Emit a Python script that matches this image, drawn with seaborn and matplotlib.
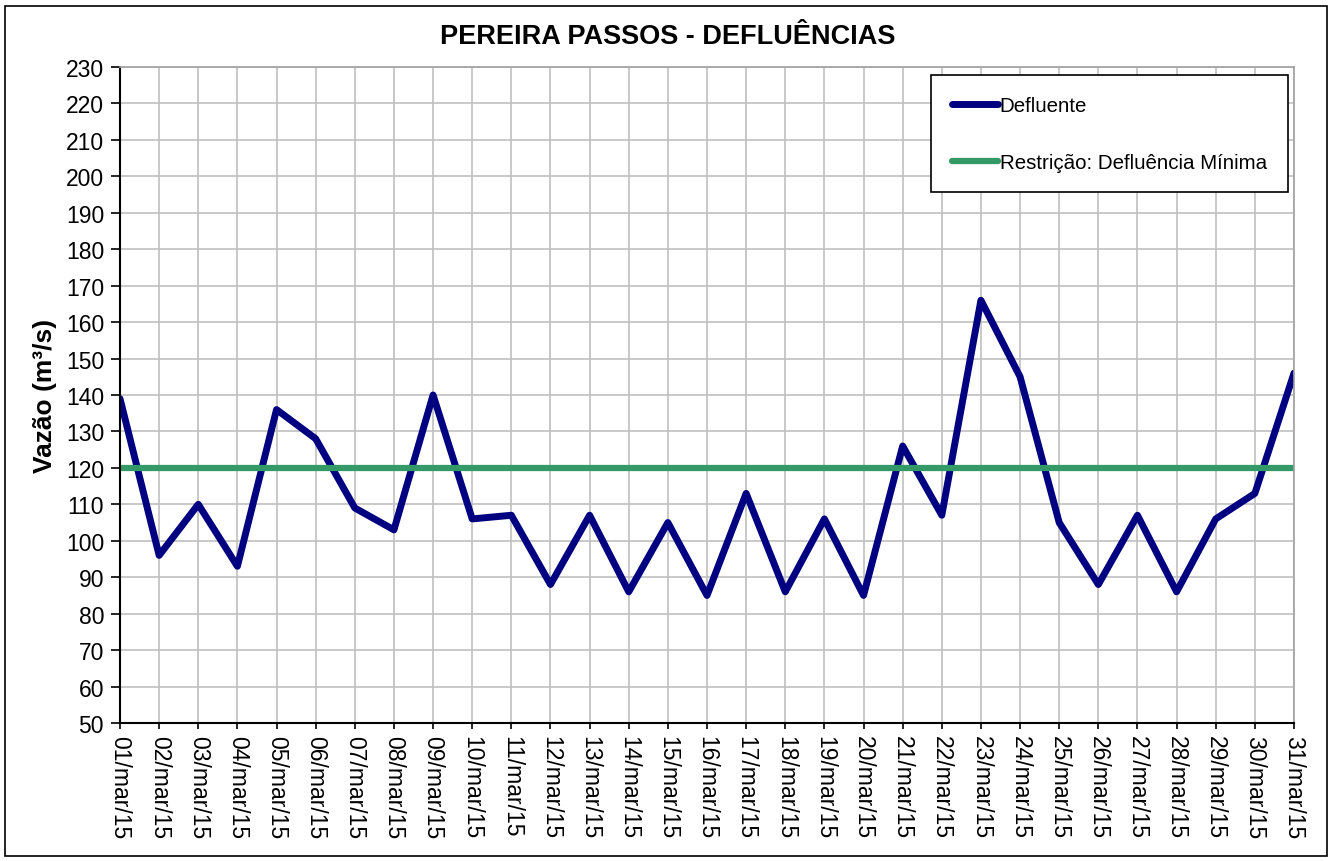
import numpy as np
import pandas as pd
import matplotlib
matplotlib.use("Agg")
import matplotlib.pyplot as plt
import seaborn as sns
from matplotlib.patches import Rectangle

# ---- dados ----
dias = [f"{d:02d}/mar/15" for d in range(1, 32)]
defluente = [139, 96, 110, 93, 136, 128, 109, 103, 140, 106,
             107, 88, 107, 86, 105, 85, 113, 86, 106, 85,
             126, 107, 166, 145, 105, 88, 107, 86, 106, 113, 146]
restricao = [120] * 31

df = pd.DataFrame({"dia": np.arange(len(dias)),
                   "Defluente": defluente,
                   "Restrição: Defluência Mínima": restricao})

sns.set_style("white")
plt.rcParams["font.family"] = ["Liberation Sans", "DejaVu Sans"]
plt.rcParams["text.color"] = "black"
plt.rcParams["axes.labelcolor"] = "black"
plt.rcParams["xtick.color"] = "black"
plt.rcParams["ytick.color"] = "black"

fig = plt.figure(figsize=(13.36, 8.62), dpi=100)
ax = fig.add_axes([120 / 1336, 1 - 724 / 862, (1294 - 120) / 1336, (724 - 68) / 862])

sns.lineplot(data=df, x="dia", y="Defluente", ax=ax, color="#000080",
             lw=5, label="Defluente")
sns.lineplot(data=df, x="dia", y="Restrição: Defluência Mínima", ax=ax,
             color="#339966", lw=4.5, label="Restrição: Defluência Mínima")

ax.set_xlim(0, len(dias) - 1)
ax.set_ylim(50, 230)
ax.set_yticks(np.arange(50, 231, 10))
ax.set_xticks(np.arange(len(dias)))
ax.set_xticklabels(dias, rotation=270, fontsize=16.5)
ax.tick_params(axis="y", labelsize=16.5, length=6.5, pad=5)
ax.tick_params(axis="x", length=4.5, pad=4)
ax.tick_params(direction="out", width=1.2, color="black", left=True, bottom=True)
ax.grid(True, color="#c0c0c0", lw=1.2)
ax.set_axisbelow(True)
for s in ["top", "right"]:
    ax.spines[s].set_color("#a0a0a0")
    ax.spines[s].set_linewidth(1.2)
for s in ["left", "bottom"]:
    ax.spines[s].set_color("black")
    ax.spines[s].set_linewidth(1.5)

ax.set_xlabel("")
ax.set_ylabel("Vazão (m³/s)", fontsize=19, fontweight="bold", labelpad=6)
fig.suptitle("PEREIRA PASSOS - DEFLUÊNCIAS", fontsize=19.5, fontweight="bold", y=0.972)

leg = ax.legend(loc="upper right", bbox_to_anchor=(0.9945, 0.9875), fontsize=14.8,
                frameon=True, fancybox=False, handlelength=2.25, handletextpad=0.1,
                labelspacing=1.85, borderpad=1.0, borderaxespad=0)
leg.get_frame().set_edgecolor("black")
leg.get_frame().set_linewidth(1.2)
leg.get_frame().set_alpha(1)

fig.patches.append(Rectangle((5 / 1336, 5 / 862), 1322 / 1336, 850 / 862, transform=fig.transFigure,
                             fill=False, edgecolor="black", lw=1.2))

fig.savefig("out.png", dpi=100)
